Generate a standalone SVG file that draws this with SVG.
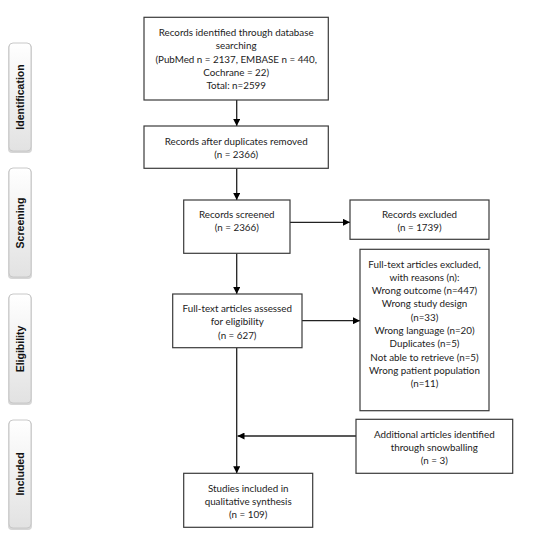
<svg xmlns="http://www.w3.org/2000/svg" width="548" height="541" viewBox="0 0 548 541">
<defs>
<linearGradient id="tabg" x1="0" y1="0" x2="0" y2="1">
<stop offset="0" stop-color="#ffffff"/>
<stop offset="1" stop-color="#e2e2e2"/>
</linearGradient>
<marker id="ah" viewBox="0 0 10 10" refX="10" refY="5" markerWidth="7" markerHeight="7" markerUnits="userSpaceOnUse" orient="auto">
<path d="M0,0 L10,5 L0,10 z" fill="#000"/>
</marker>
</defs>
<style>
.box{fill:#fff;stroke:#3a3a3a;stroke-width:1.2}
.t{font-family:Lato,"Liberation Sans",sans-serif;font-size:9.8px;fill:#222;text-anchor:middle}
.tab{fill:url(#tabg);stroke:#c8c8c8;stroke-width:1}
.tabsh{fill:#d6d6d6}
.tt{font-family:"Liberation Sans",Arial,sans-serif;font-size:10.5px;font-weight:bold;fill:#111;text-anchor:middle}
.c{stroke:#222;stroke-width:1.3;fill:none}
</style>
<rect width="548" height="541" fill="#fff"/>

<g id="tab-identification">
<rect class="tabsh" x="8" y="44" width="24" height="109" rx="4"/>
<rect class="tab" x="9" y="43" width="22" height="108" rx="4"/>
<text class="tt" transform="translate(24,97) rotate(-90)">Identification</text>
</g>
<g id="tab-screening">
<rect class="tabsh" x="8" y="169" width="24" height="110" rx="4"/>
<rect class="tab" x="9" y="168" width="22" height="109" rx="4"/>
<text class="tt" transform="translate(24,223) rotate(-90)">Screening</text>
</g>
<g id="tab-eligibility">
<rect class="tabsh" x="8" y="295" width="24" height="110" rx="4"/>
<rect class="tab" x="9" y="294" width="22" height="109" rx="4"/>
<text class="tt" transform="translate(24,349) rotate(-90)">Eligibility</text>
</g>
<g id="tab-included">
<rect class="tabsh" x="8" y="421" width="24" height="109" rx="4"/>
<rect class="tab" x="9" y="420" width="22" height="108" rx="4"/>
<text class="tt" transform="translate(24,474) rotate(-90)">Included</text>
</g>

<g id="connectors">
<line class="c" x1="236.7" y1="100" x2="236.7" y2="126" marker-end="url(#ah)"/>
<line class="c" x1="236.7" y1="168.3" x2="236.7" y2="200" marker-end="url(#ah)"/>
<line class="c" x1="290" y1="222.3" x2="350" y2="222.3" marker-end="url(#ah)"/>
<line class="c" x1="236.7" y1="253.3" x2="236.7" y2="294" marker-end="url(#ah)"/>
<line class="c" x1="302" y1="320.7" x2="360" y2="320.7" marker-end="url(#ah)"/>
<line class="c" x1="236.7" y1="347.7" x2="236.7" y2="473.3" marker-end="url(#ah)"/>
<line class="c" x1="356" y1="436" x2="237.5" y2="436" marker-end="url(#ah)"/>
</g>

<g id="n-identified">
<rect class="box" x="144" y="17.3" width="184.3" height="82.7"/>
<text class="t" x="236.2" y="36">Records identified through database</text>
<text class="t" x="236.2" y="49.3">searching</text>
<text class="t" x="236.2" y="62.6">(PubMed n = 2137, EMBASE n = 440,</text>
<text class="t" x="236.2" y="75.9">Cochrane = 22)</text>
<text class="t" x="236.2" y="89.2">Total: n=2599</text>
</g>
<g id="n-duplicates">
<rect class="box" x="144" y="126" width="184.3" height="42.3"/>
<text class="t" x="236.2" y="144.5">Records after duplicates removed</text>
<text class="t" x="236.2" y="157.8">(n = 2366)</text>
</g>
<g id="n-screened">
<rect class="box" x="183.7" y="200" width="106.3" height="53.3"/>
<text class="t" x="236.8" y="218">Records screened</text>
<text class="t" x="236.8" y="231.3">(n = 2366)</text>
</g>
<g id="n-excluded">
<rect class="box" x="350" y="200" width="139" height="39.3"/>
<text class="t" x="419.5" y="218">Records excluded</text>
<text class="t" x="419.5" y="231.3">(n = 1739)</text>
</g>
<g id="n-assessed">
<rect class="box" x="172.7" y="294" width="129.3" height="53.7"/>
<text class="t" x="237.3" y="312">Full-text articles assessed</text>
<text class="t" x="237.3" y="325.3">for eligibility</text>
<text class="t" x="237.3" y="338.6">(n = 627)</text>
</g>
<g id="n-fulltext-excluded">
<rect class="box" x="360" y="249.3" width="129" height="161.4"/>
<text class="t" x="424.5" y="267.5">Full-text articles excluded,</text>
<text class="t" x="424.5" y="280.8">with reasons (n):</text>
<text class="t" x="424.5" y="294.1">Wrong outcome (n=447)</text>
<text class="t" x="424.5" y="307.4">Wrong study design</text>
<text class="t" x="424.5" y="320.7">(n=33)</text>
<text class="t" x="424.5" y="334">Wrong language (n=20)</text>
<text class="t" x="424.5" y="347.3">Duplicates (n=5)</text>
<text class="t" x="424.5" y="360.6">Not able to retrieve (n=5)</text>
<text class="t" x="424.5" y="373.9">Wrong patient population</text>
<text class="t" x="424.5" y="387.2">(n=11)</text>
</g>
<g id="n-snowballing">
<rect class="box" x="356" y="419.3" width="156.7" height="54"/>
<text class="t" x="434.3" y="437.5">Additional articles identified</text>
<text class="t" x="434.3" y="450.8">through snowballing</text>
<text class="t" x="434.3" y="464.1">(n = 3)</text>
</g>
<g id="n-included">
<rect class="box" x="183.7" y="473.3" width="129" height="54"/>
<text class="t" x="248.2" y="491.5">Studies included in</text>
<text class="t" x="248.2" y="504.8">qualitative synthesis</text>
<text class="t" x="248.2" y="518.1">(n = 109)</text>
</g>
</svg>
